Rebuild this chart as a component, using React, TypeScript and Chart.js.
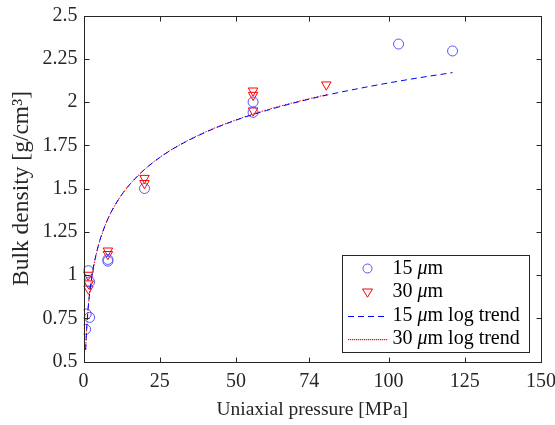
import React, { useEffect, useRef } from 'react';
import { Chart, registerables } from 'chart.js';

Chart.register(...registerables);

// ---- data ----
const X_TICKS = [0, 25, 50, 74, 100, 125, 150];
const Y_TICKS = [0.5, 0.75, 1, 1.25, 1.5, 1.75, 2, 2.25, 2.5];

const P15_X = [0.7, 0.9, 2.0, 1.6, 2.0, 8, 8, 20, 55.6, 55.6, 103.3, 121];
const P15_Y = [0.686, 0.775, 0.755, 1.025, 0.96, 1.08, 1.09, 1.5, 2.0, 1.94, 2.335, 2.295];

const P30_X = [1.5, 1.7, 1.6, 8, 8, 20, 20, 55.6, 55.6, 55.6, 79.6];
const P30_Y = [1.0, 0.95, 0.92, 1.14, 1.12, 1.56, 1.53, 2.065, 2.04, 1.95, 2.1];

const T15_X = [0.7, 1, 1.5, 2, 3, 4, 5, 6, 8, 10, 13, 16, 20, 25, 30, 40, 50, 60, 70, 80, 90, 100, 110, 121];
const T15_Y = [0.567, 0.678, 0.804, 0.894, 1.02, 1.109, 1.179, 1.235, 1.325, 1.394, 1.476, 1.54, 1.61, 1.679, 1.736, 1.825, 1.895, 1.951, 1.999, 2.041, 2.077, 2.11, 2.14, 2.17];

const T30_X = [0.72, 1, 1.5, 2, 3, 4, 5, 6, 8, 10, 13, 16, 20, 25, 30, 40, 50, 60, 70, 80];
const T30_Y = [0.569, 0.672, 0.799, 0.889, 1.016, 1.106, 1.176, 1.233, 1.323, 1.393, 1.475, 1.54, 1.61, 1.68, 1.737, 1.827, 1.897, 1.954, 2.002, 2.044];

const LEGEND_LABELS = ['15 μm', '30 μm', '15 μm log trend', '30 μm log trend'];

const X_TITLE = 'Uniaxial pressure [MPa]';
const Y_TITLE = 'Bulk density [g/cm³]';

const CIRCLE_COLOR = 'rgb(85,85,255)';
const BLUE = 'rgb(0,0,255)';
const RED = 'rgb(255,0,0)';
const AXIS_COLOR = '#262626';
const FONT = 'Liberation Serif';

const zip = (xs: number[], ys: number[]) => xs.map((x, i) => ({ x, y: ys[i] }));

function drawTri(ctx: CanvasRenderingContext2D, cx: number, cy: number, r: number) {
  ctx.beginPath();
  ctx.moveTo(cx - r, cy - r * 0.6);
  ctx.lineTo(cx + r, cy - r * 0.6);
  ctx.lineTo(cx, cy + r * 1.05);
  ctx.closePath();
  ctx.stroke();
}

const framePlugin = {
  id: 'matlabFrame',
  afterDraw(chart: any) {
    const { ctx, scales } = chart;
    const xs = scales.x, ys = scales.y;
    const L = Math.round(xs.getPixelForValue(0)) + 0.5;
    const R = Math.round(xs.getPixelForValue(150)) + 0.5;
    const T = Math.round(ys.getPixelForValue(2.5)) + 0.5;
    const B = Math.round(ys.getPixelForValue(0.5)) + 0.5;
    ctx.save();
    ctx.strokeStyle = AXIS_COLOR;
    ctx.lineWidth = 1;
    ctx.setLineDash([]);
    ctx.strokeRect(L, T, R - L, B - T);
    const tl = 5;
    ctx.beginPath();
    X_TICKS.forEach((v) => {
      const px = Math.round(xs.getPixelForValue(v)) + 0.5;
      ctx.moveTo(px, B);
      ctx.lineTo(px, B - tl);
      ctx.moveTo(px, T);
      ctx.lineTo(px, T + tl);
    });
    Y_TICKS.forEach((v) => {
      const py = Math.round(ys.getPixelForValue(v)) + 0.5;
      ctx.moveTo(L, py);
      ctx.lineTo(L + tl, py);
      ctx.moveTo(R, py);
      ctx.lineTo(R - tl, py);
    });
    ctx.stroke();

    // legend
    const bw = 187, bh = 97;
    const bx = Math.round(R - 13 - bw) + 0.5;
    const by = Math.round(B - 11 - bh) + 0.5;
    ctx.fillStyle = '#ffffff';
    ctx.fillRect(bx, by, bw, bh);
    ctx.strokeStyle = AXIS_COLOR;
    ctx.strokeRect(bx, by, bw, bh);
    const rowH = 23.5;
    const y0 = by + 13;
    const sx0 = Math.round(bx + 5), sx1 = Math.round(bx + 45), smid = bx + 25;
    const tx = bx + 50;
    ctx.textBaseline = 'middle';
    ctx.textAlign = 'left';
    LEGEND_LABELS.forEach((label, i) => {
      const cy = y0 + i * rowH;
      ctx.lineWidth = 1;
      ctx.setLineDash([]);
      if (i === 0) {
        ctx.strokeStyle = CIRCLE_COLOR;
        ctx.beginPath();
        ctx.arc(smid, cy, 4.5, 0, Math.PI * 2);
        ctx.stroke();
      } else if (i === 1) {
        ctx.strokeStyle = RED;
        drawTri(ctx, smid, cy, 5);
      } else if (i === 2) {
        ctx.strokeStyle = BLUE;
        ctx.setLineDash([6, 4]);
        ctx.beginPath();
        ctx.moveTo(sx0, Math.round(cy) + 0.5);
        ctx.lineTo(sx1, Math.round(cy) + 0.5);
        ctx.stroke();
        ctx.setLineDash([]);
      } else {
        ctx.fillStyle = RED;
        for (let x = sx0; x < sx1; x += 2) {
          ctx.fillRect(x, Math.round(cy), 1.2, 1.2);
        }
      }
      ctx.fillStyle = '#000000';
      const parts = label.split('μ');
      let x = tx;
      ctx.font = `20px "${FONT}"`;
      ctx.fillText(parts[0], x, cy);
      x += ctx.measureText(parts[0]).width;
      ctx.font = `italic 20px "${FONT}"`;
      ctx.fillText('μ', x, cy);
      x += ctx.measureText('μ').width;
      ctx.font = `20px "${FONT}"`;
      ctx.fillText(parts[1], x, cy);
    });
    ctx.restore();
  },
};

export default function App() {
  const ref = useRef<HTMLCanvasElement | null>(null);
  useEffect(() => {
    document.body.style.margin = '0';
    const canvas = ref.current!;
    const chart = new Chart(canvas, {
      type: 'scatter',
      data: {
        datasets: [
          {
            label: LEGEND_LABELS[2],
            data: zip(T15_X, T15_Y),
            showLine: true,
            borderColor: BLUE,
            borderWidth: 1,
            borderDash: [6, 4],
            pointRadius: 0,
            cubicInterpolationMode: 'monotone',
            order: 0,
          },
          {
            label: LEGEND_LABELS[3],
            data: zip(T30_X, T30_Y),
            showLine: true,
            borderColor: RED,
            borderWidth: 1,
            borderDash: [1.5, 1.5],
            pointRadius: 0,
            cubicInterpolationMode: 'monotone',
            order: 0,
          },
          {
            label: LEGEND_LABELS[0],
            data: zip(P15_X, P15_Y),
            pointStyle: 'circle',
            pointRadius: 5,
            borderColor: CIRCLE_COLOR,
            backgroundColor: 'rgba(0,0,0,0)',
            borderWidth: 1,
            order: 1,
          },
          {
            label: LEGEND_LABELS[1],
            data: zip(P30_X, P30_Y),
            pointStyle: 'triangle',
            pointRotation: 180,
            pointRadius: 5.5,
            borderColor: RED,
            backgroundColor: 'rgba(0,0,0,0)',
            borderWidth: 1,
            order: 1,
          },
        ] as any,
      },
      options: {
        responsive: false,
        animation: false,
        devicePixelRatio: 1,
        layout: { padding: { top: 15.5, right: 14, left: 0, bottom: 0 } },
        plugins: {
          legend: { display: false },
          tooltip: { enabled: false },
        },
        scales: {
          x: {
            type: 'linear',
            min: 0,
            max: 150,
            afterBuildTicks: (s: any) => {
              s.ticks = X_TICKS.map((v) => ({ value: v }));
            },
            afterFit: (s: any) => {
              s.height = 63.5;
              s.paddingLeft = 0;
              s.paddingRight = 0;
            },
            grid: { display: false, drawTicks: false },
            border: { display: false },
            ticks: {
              color: AXIS_COLOR,
              font: { family: FONT, size: 20 },
              padding: 8,
              maxRotation: 0,
              autoSkip: false,
              callback: (v: any) => String(v),
            },
            title: {
              display: true,
              text: X_TITLE,
              color: AXIS_COLOR,
              font: { family: FONT, size: 19.5 },
              padding: { top: 0, bottom: 3 },
            },
          },
          y: {
            type: 'linear',
            min: 0.5,
            max: 2.5,
            afterBuildTicks: (s: any) => {
              s.ticks = Y_TICKS.map((v) => ({ value: v }));
            },
            afterFit: (s: any) => {
              s.width = 83.5;
              s.paddingTop = 0;
              s.paddingBottom = 0;
            },
            grid: { display: false, drawTicks: false },
            border: { display: false },
            ticks: {
              color: AXIS_COLOR,
              font: { family: FONT, size: 20 },
              padding: 6,
              autoSkip: false,
              callback: (v: any) => String(v),
            },
            title: {
              display: true,
              text: Y_TITLE,
              color: AXIS_COLOR,
              font: { family: FONT, size: 23.5 },
              padding: { top: 8, bottom: 0 },
            },
          },
        },
      },
      plugins: [framePlugin],
    });
    return () => chart.destroy();
  }, []);
  return (
    <div style={{ position: 'absolute', left: 0, top: 0, width: 555, height: 425 }}>
      <canvas ref={ref} width={555} height={425} />
    </div>
  );
}
